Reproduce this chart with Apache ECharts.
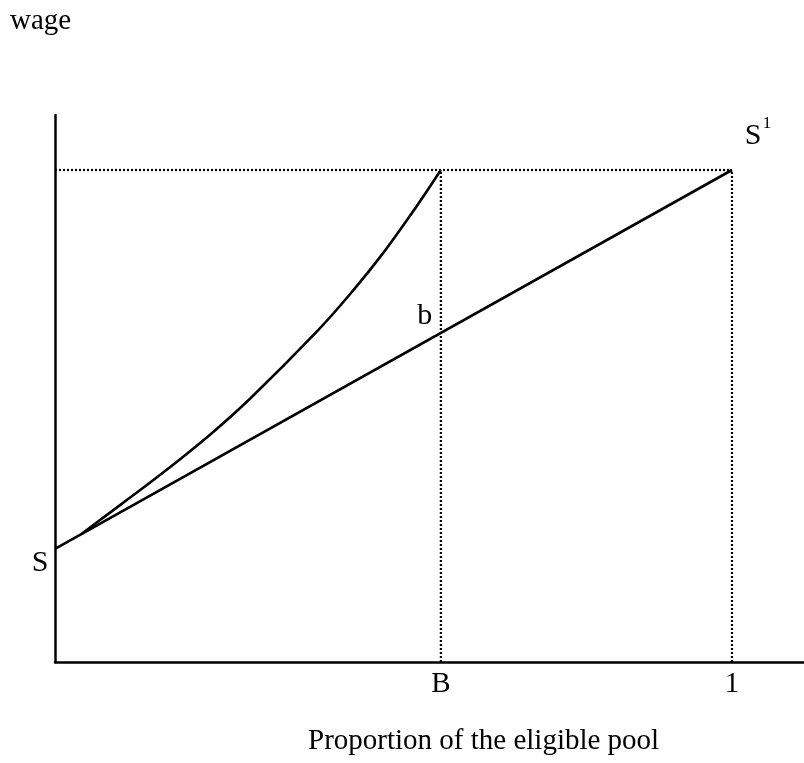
<!DOCTYPE html>
<html>
<head>
<meta charset="utf-8">
<script src="https://cdn.jsdelivr.net/npm/echarts@6/dist/echarts.min.js"></script>
<style>html,body{margin:0;padding:0;background:#fff}#c{width:804px;height:763px}</style>
</head>
<body>
<div id="c"></div>
<script>
// ---- data ----
var sIntercept = 0.23;        // wage at proportion 0 (S)
var pointB = 0.57;            // proportion B
var topWage = 1.0;            // wage at S1
var supplyLine = [[0, sIntercept], [1, topWage]];
var curveX = [0.04, 0.066, 0.155, 0.229, 0.288, 0.387, 0.436, 0.484, 0.535, 0.57];
var curveY = [0.261, 0.288, 0.380, 0.462, 0.535, 0.672, 0.748, 0.830, 0.928, 1.0];
var xTickValues = [pointB, 1];
var xTickLabels = ['B', '1'];
var bWage = sIntercept + (topWage - sIntercept) * pointB;

var curve = curveX.map(function (x, i) { return [x, curveY[i]]; });
var serif = 'Liberation Serif';

var chart = echarts.init(document.getElementById('c'));
chart.setOption({
  backgroundColor: '#fff',
  animation: false,
  title: [
    { text: 'wage', left: 10, top: 7, padding: 0,
      textStyle: { fontFamily: serif, fontSize: 29, fontWeight: 'normal', color: '#000' } },
    { text: 'Proportion of the eligible pool', left: 308, top: 727, padding: 0,
      textStyle: { fontFamily: serif, fontSize: 29, fontWeight: 'normal', color: '#000' } }
  ],
  grid: { left: 55, right: 0, top: 115, bottom: 101 },
  xAxis: {
    type: 'value', min: 0, max: 1.1064,
    axisLine: { show: true, lineStyle: { color: '#000', width: 2.5 } },
    axisTick: { show: false },
    splitLine: { show: false },
    axisLabel: {
      customValues: xTickValues,
      formatter: function (v) {
        var i = xTickValues.indexOf(v);
        return i >= 0 ? xTickLabels[i] : '';
      },
      fontFamily: serif, fontSize: 29, color: '#000', margin: 8
    }
  },
  yAxis: {
    type: 'value', min: 0, max: 1.1118,
    axisLine: { show: true, lineStyle: { color: '#000', width: 2.5 } },
    axisTick: { show: false },
    splitLine: { show: false },
    axisLabel: { show: false }
  },
  series: [
    { type: 'line', data: [[0, topWage], [1, topWage]], symbol: 'none', silent: true,
      lineStyle: { color: '#000', width: 2.2, type: [2, 2] } },
    { type: 'line', data: [[pointB, 0], [pointB, topWage]], symbol: 'none', silent: true,
      lineStyle: { color: '#000', width: 2.2, type: [2, 2] } },
    { type: 'line', data: [[1, 0], [1, topWage]], symbol: 'none', silent: true,
      lineStyle: { color: '#000', width: 2.2, type: [2, 2] } },
    { type: 'line', data: supplyLine, symbol: 'none', silent: true,
      lineStyle: { color: '#000', width: 2.6 } },
    { type: 'line', data: curve, symbol: 'none', smooth: 0.3, silent: true,
      lineStyle: { color: '#000', width: 2.6 } },
    { type: 'scatter', symbolSize: 0, silent: true,
      itemStyle: { opacity: 1, color: '#000' },
      label: { show: true, position: 'inside', fontFamily: serif, fontSize: 30, color: '#000',
               opacity: 1, textBorderWidth: 0, textShadowBlur: 0 },
      data: [
        { value: [0, sIntercept], label: { formatter: 'S', offset: [-15, 14] } },
        { value: [pointB, bWage], label: { formatter: 'b', offset: [-16, -17] } },
        { value: [1, topWage], label: { formatter: 'S', offset: [21, -34] } },
        { value: [1, topWage], label: { formatter: '1', fontSize: 17, offset: [35, -46] } }
      ]
    }
  ]
});
</script>
</body>
</html>
